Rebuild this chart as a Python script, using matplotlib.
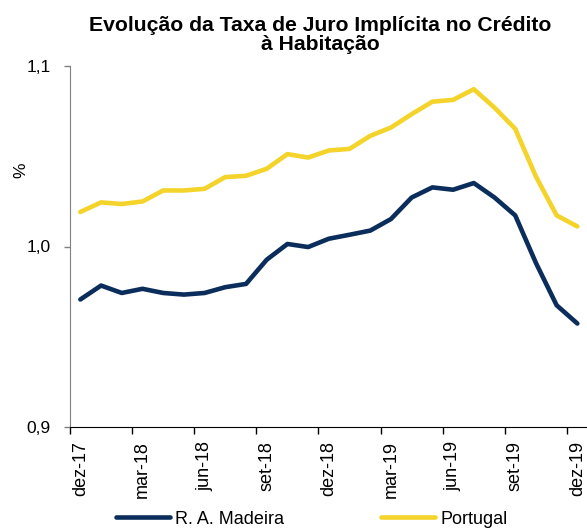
import matplotlib
matplotlib.use("Agg")
import matplotlib.pyplot as plt
import numpy as np

plt.rcParams['font.family'] = ['Liberation Sans', 'DejaVu Sans']

# monthly data, dez-17 .. dez-19
meses = ['dez-17', 'jan-18', 'fev-18', 'mar-18', 'abr-18', 'mai-18', 'jun-18',
         'jul-18', 'ago-18', 'set-18', 'out-18', 'nov-18', 'dez-18', 'jan-19',
         'fev-19', 'mar-19', 'abr-19', 'mai-19', 'jun-19', 'jul-19', 'ago-19',
         'set-19', 'out-19', 'nov-19', 'dez-19']
madeira = [0.9707, 0.9784, 0.9743, 0.9766, 0.9743, 0.9734, 0.9743, 0.9775,
           0.9793, 0.9927, 1.0014, 0.9997, 1.0043, 1.0065, 1.0088, 1.0152,
           1.0271, 1.0327, 1.0314, 1.0351, 1.0271, 1.0172, 0.9909, 0.9675,
           0.9574]
portugal = [1.0191, 1.0244, 1.0235, 1.0249, 1.0310, 1.0310, 1.0319, 1.0384,
            1.0391, 1.0430, 1.0511, 1.0492, 1.0531, 1.0540, 1.0612, 1.0658,
            1.0732, 1.0801, 1.0811, 1.0870, 1.0768, 1.0651, 1.0387, 1.0172,
            1.0111]

navy = '#0b2d5b'
yellow = '#f4d32a'

fig = plt.figure(figsize=(5.87, 5.28), dpi=100)
ax = fig.add_axes([70 / 587, 100.7 / 528, 517.7 / 587, 361.6 / 528])

x = np.arange(len(meses))
ax.plot(x, madeira, color=navy, lw=3.3, solid_capstyle='round', label='R. A. Madeira')
ax.plot(x, portugal, color=yellow, lw=3.3, solid_capstyle='round', label='Portugal')

ax.set_xlim(-0.5, len(meses) - 0.5)
ax.set_ylim(0.9, 1.1)

# ticks between categories, labels on every 3rd month
ax.set_xticks(np.arange(0, len(meses) + 1, 3) - 0.5)
ax.set_xticklabels([])
ax.set_xticks(x[::3], minor=True)
ax.set_xticklabels([meses[i] for i in x[::3]], minor=True, rotation=90, fontsize=13)
ax.tick_params(axis='x', which='major', direction='out', length=5, width=1, color='black')
ax.tick_params(axis='x', which='minor', length=0, pad=10)

ax.set_yticks([0.9, 1.0, 1.1])
ax.set_yticklabels(['0,9', '1,0', '1,1'], fontsize=12.5)
ax.tick_params(axis='y', direction='out', length=4, width=1, color='#808080', pad=10)

for s in ['top', 'right']:
    ax.spines[s].set_visible(False)
ax.spines['left'].set_color('#808080')
ax.spines['bottom'].set_color('black')

ax.set_ylabel('%', fontsize=12.5)
ax.yaxis.set_label_coords(-0.081, 0.71)

fig.text(0.545, 0.970, 'Evolução da Taxa de Juro Implícita no Crédito\nà Habitação',
         fontsize=15.2, fontweight='bold', ha='center', va='top', linespacing=1.0)

fig.legend(loc='lower center', bbox_to_anchor=(0.531, -0.03), ncol=2, frameon=False,
           fontsize=13, handlelength=3.0, handletextpad=0.28, columnspacing=5.4)

fig.savefig('out.png', dpi=100)
